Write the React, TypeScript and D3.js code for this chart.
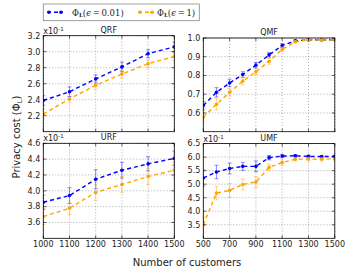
import React from 'react';
import * as d3 from 'd3';

// x values
const xRF = [1000, 1100, 1200, 1300, 1400, 1500];
const xMF = [500, 600, 700, 800, 900, 1000, 1100, 1200, 1300, 1400, 1500];

// QRF (x10^-1)
const qrfBlue = [2.39, 2.50, 2.66, 2.81, 2.975, 3.06];
const qrfBlueErr = [0.06, 0.06, 0.05, 0.06, 0.05, 0.06];
const qrfOrange = [2.22, 2.41, 2.58, 2.72, 2.85, 2.94];
const qrfOrangeErr = [0.06, 0.05, 0.05, 0.05, 0.05, 0.05];

// QMF
const qmfBlue = [0.64, 0.71, 0.76, 0.805, 0.855, 0.91, 0.96, 0.985, 0.99, 0.99, 0.99];
const qmfBlueErr = [0.02, 0.025, 0.02, 0.015, 0.015, 0.012, 0.01, 0.005, 0.004, 0.004, 0.004];
const qmfOrange = [0.578, 0.646, 0.71, 0.77, 0.82, 0.875, 0.94, 0.98, 0.99, 0.99, 0.99];
const qmfOrangeErr = [0.02, 0.03, 0.02, 0.02, 0.015, 0.015, 0.012, 0.006, 0.004, 0.004, 0.004];

// URF (x10^-1)
const urfBlue = [3.855, 3.94, 4.146, 4.26, 4.34, 4.41];
const urfBlueErr = [0.09, 0.1, 0.12, 0.1, 0.09, 0.09];
const urfOrange = [3.675, 3.78, 3.98, 4.08, 4.18, 4.26];
const urfOrangeErr = [0.1, 0.08, 0.1, 0.1, 0.1, 0.1];

// UMF (x10^-1)
const umfBlue = [5.23, 5.45, 5.58, 5.66, 5.66, 5.98, 6.04, 6.05, 6.03, 6.02, 6.03];
const umfBlueErr = [0.3, 0.25, 0.2, 0.15, 0.2, 0.08, 0.06, 0.04, 0.04, 0.04, 0.04];
const umfOrange = [3.5, 4.67, 4.77, 4.99, 5.08, 5.62, 5.8, 5.92, 5.93, 5.92, 5.94];
const umfOrangeErr = [0.3, 0.25, 0.25, 0.2, 0.2, 0.12, 0.1, 0.06, 0.06, 0.06, 0.06];

const BLUE = '#0000ff';
const ORANGE = '#ffa500';
const FONT = 'DejaVu Sans, sans-serif';

type Series = { y: number[]; err: number[]; color: string };
type Panel = {
  title: string;
  box: [number, number, number, number]; // left, top, right, bottom
  xDomain: [number, number];
  xTicks: number[];
  showXLabels: boolean;
  yDomain: [number, number];
  yTicks: number[];
  yFmt: (v: number) => string;
  offset: boolean;
  xs: number[];
  series: Series[];
};

const panels: Panel[] = [
  {
    title: 'QRF', box: [43.3, 35.7, 174.3, 131.7], xDomain: [1000, 1500],
    xTicks: d3.range(1000, 1501, 100), showXLabels: false,
    yDomain: [2.0, 3.2], yTicks: [2.2, 2.4, 2.6, 2.8, 3.0, 3.2], yFmt: d3.format('.1f'), offset: true,
    xs: xRF,
    series: [
      { y: qrfBlue, err: qrfBlueErr, color: BLUE },
      { y: qrfOrange, err: qrfOrangeErr, color: ORANGE },
    ],
  },
  {
    title: 'QMF', box: [203.3, 38, 334.8, 131.7], xDomain: [500, 1500],
    xTicks: d3.range(500, 1501, 200), showXLabels: false,
    yDomain: [0.5, 1.0], yTicks: [0.6, 0.7, 0.8, 0.9, 1.0], yFmt: d3.format('.1f'), offset: false,
    xs: xMF,
    series: [
      { y: qmfBlue, err: qmfBlueErr, color: BLUE },
      { y: qmfOrange, err: qmfOrangeErr, color: ORANGE },
    ],
  },
  {
    title: 'URF', box: [43.3, 143.3, 174.3, 238.3], xDomain: [1000, 1500],
    xTicks: d3.range(1000, 1501, 100), showXLabels: true,
    yDomain: [3.4, 4.6], yTicks: [3.6, 3.8, 4.0, 4.2, 4.4, 4.6], yFmt: d3.format('.1f'), offset: true,
    xs: xRF,
    series: [
      { y: urfBlue, err: urfBlueErr, color: BLUE },
      { y: urfOrange, err: urfOrangeErr, color: ORANGE },
    ],
  },
  {
    title: 'UMF', box: [203.3, 143.6, 334.8, 238.3], xDomain: [500, 1500],
    xTicks: d3.range(500, 1501, 200), showXLabels: true,
    yDomain: [3.0, 6.5], yTicks: [3.5, 4.0, 4.5, 5.0, 5.5, 6.0, 6.5], yFmt: d3.format('.1f'), offset: true,
    xs: xMF,
    series: [
      { y: umfBlue, err: umfBlueErr, color: BLUE },
      { y: umfOrange, err: umfOrangeErr, color: ORANGE },
    ],
  },
];

const PanelView = ({ p }: { p: Panel }) => {
  const [l, t, r, b] = p.box;
  const x = d3.scaleLinear().domain(p.xDomain).range([l, r]);
  const y = d3.scaleLinear().domain(p.yDomain).range([b, t]);
  const line = d3.line<number>().x((_, i) => x(p.xs[i])).y((d) => y(d));
  const tk = 3;
  return (
    <g>
      <defs>
        <clipPath id={`clip-${p.title}`}>
          <rect x={l} y={t} width={r - l} height={b - t} />
        </clipPath>
      </defs>
      {/* grid */}
      {p.xTicks.map((v) => (
        <line key={'gx' + v} x1={x(v)} x2={x(v)} y1={t} y2={b} stroke="#777" strokeWidth={0.6} strokeDasharray="1,2" />
      ))}
      {p.yTicks.map((v) => (
        <line key={'gy' + v} x1={l} x2={r} y1={y(v)} y2={y(v)} stroke="#777" strokeWidth={0.6} strokeDasharray="1,2" />
      ))}
      {/* data */}
      <g clipPath={`url(#clip-${p.title})`}>
        {p.series.map((s, si) => (
          <g key={si}>
            {s.y.map((v, i) => (
              <g key={i} stroke={s.color} strokeOpacity={0.45} strokeWidth={1}>
                <line x1={x(p.xs[i])} x2={x(p.xs[i])} y1={y(v - s.err[i])} y2={y(v + s.err[i])} />
                <line x1={x(p.xs[i]) - 2} x2={x(p.xs[i]) + 2} y1={y(v - s.err[i])} y2={y(v - s.err[i])} />
                <line x1={x(p.xs[i]) - 2} x2={x(p.xs[i]) + 2} y1={y(v + s.err[i])} y2={y(v + s.err[i])} />
              </g>
            ))}
            <path d={line(s.y) || ''} fill="none" stroke={s.color} strokeWidth={1.4} strokeDasharray="4,3" />
            {s.y.map((v, i) => (
              <circle key={'m' + i} cx={x(p.xs[i])} cy={y(v)} r={1.8} fill={s.color} />
            ))}
          </g>
        ))}
      </g>
      {/* frame */}
      <rect x={l} y={t} width={r - l} height={b - t} fill="none" stroke="#000" strokeWidth={0.8} />
      {/* ticks */}
      {p.xTicks.map((v) => (
        <g key={'tx' + v} stroke="#000" strokeWidth={0.6}>
          <line x1={x(v)} x2={x(v)} y1={b} y2={b - tk} />
          <line x1={x(v)} x2={x(v)} y1={t} y2={t + tk} />
        </g>
      ))}
      {p.yTicks.map((v) => (
        <g key={'ty' + v} stroke="#000" strokeWidth={0.6}>
          <line x1={l} x2={l + tk} y1={y(v)} y2={y(v)} />
          <line x1={r} x2={r - tk} y1={y(v)} y2={y(v)} />
        </g>
      ))}
      {p.yTicks.map((v) => (
        <text key={'ly' + v} x={l - 3} y={y(v)} dy="0.35em" textAnchor="end" fontSize={8} fontFamily={FONT} fill="#222">
          {p.yFmt(v)}
        </text>
      ))}
      {p.showXLabels &&
        p.xTicks.map((v) => (
          <text key={'lx' + v} x={x(v)} y={b + 9} textAnchor="middle" fontSize={8} fontFamily={FONT} fill="#222">
            {v}
          </text>
        ))}
      <text x={(l + r) / 2} y={t - 3} textAnchor="middle" fontSize={8} fontFamily={FONT} fill="#222">
        {p.title}
      </text>
      {p.offset && (
        <text x={l} y={t - 2} fontSize={8} fontFamily={FONT} fill="#222">
          x10<tspan dy={-3} fontSize={5.5}>-1</tspan>
        </text>
      )}
    </g>
  );
};

const Legend = () => {
  const items = [
    { color: BLUE, eps: '0.01', x0: 47, tx: 72 },
    { color: ORANGE, eps: '1', x0: 138, tx: 157 },
  ];
  return (
    <g>
      <rect x={43.3} y={4} width={156} height={16.7} fill="#fff" stroke="#888" strokeWidth={0.8} />
      {items.map((it) => (
        <g key={it.eps}>
          <line x1={it.x0} x2={it.x0 + 16} y1={12.3} y2={12.3} stroke={it.color} strokeWidth={1.4} strokeDasharray="4,3" />
          <circle cx={it.x0 + 2} cy={12.3} r={1.8} fill={it.color} />
          <circle cx={it.x0 + 14} cy={12.3} r={1.8} fill={it.color} />
          <text x={it.tx} y={15.5} fontSize={8.5} fontFamily="DejaVu Serif, serif" fill="#222">
            Φ<tspan dy={1.5} fontSize={5.5} fontWeight="bold">L</tspan>
            <tspan dy={-1.5}>(</tspan>
            <tspan fontStyle="italic">ϵ</tspan>
            <tspan>{'\u2009=\u2009' + it.eps + ')'}</tspan>
          </text>
        </g>
      ))}
    </g>
  );
};

export default function App() {
  return (
    <svg width={350} height={274} style={{ display: 'block', position: 'absolute', left: 0, top: 0, background: '#fff' }}>
      <rect width={350} height={274} fill="#fff" />
      {panels.map((p) => (
        <PanelView key={p.title} p={p} />
      ))}
      <Legend />
      <text x={187} y={266} textAnchor="middle" fontSize={10} fontFamily={FONT} fill="#222">
        Number of customers
      </text>
      <text transform="translate(20,137) rotate(-90)" textAnchor="middle" fontSize={10} fontFamily={FONT} fill="#222">
        Privacy cost (Φ<tspan dy={2} fontSize={7}>L</tspan><tspan dy={-2}>)</tspan>
      </text>
    </svg>
  );
}
